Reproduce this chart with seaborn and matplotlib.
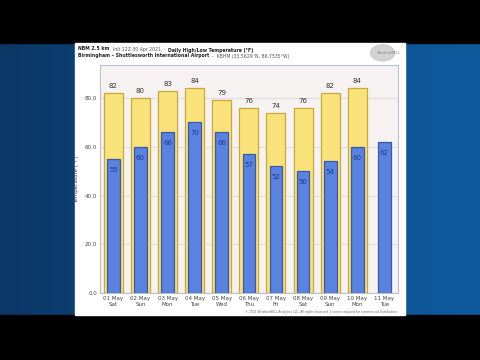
import numpy as np
import pandas as pd
import matplotlib.pyplot as plt
import seaborn as sns
from matplotlib.patches import Rectangle, Ellipse

sns.set_theme(style="white")
plt.rcParams['font.family'] = ['DejaVu Sans']

# --- data ---
dates = ["01 May", "02 May", "03 May", "04 May", "05 May", "06 May",
         "07 May", "08 May", "09 May", "10 May", "11 May"]
weekdays = ["Sat", "Sun", "Mon", "Tue", "Wed", "Thu", "Fri", "Sat", "Sun", "Mon", "Tue"]
highs = [82, 80, 83, 84, 79, 76, 74, 76, 82, 84, np.nan]
lows = [55, 60, 66, 70, 66, 57, 52, 50, 54, 60, 62]

cats = [f"{d}\n{w}" for d, w in zip(dates, weekdays)]
df = pd.DataFrame({"day": cats, "high": highs, "low": lows})

fig = plt.figure(figsize=(4.8, 3.6), dpi=100)

# --- video frame: blue backdrop, black bands, white card ---
bg = fig.add_axes([0, 0, 1, 1])
bg.set_axis_off()
grad = np.linspace(0, 1, 256)[None, :]
bg.imshow(grad, aspect="auto", extent=[0, 1, 0, 1],
          cmap=sns.blend_palette(["#0a3764", "#0d4f8e", "#0e5a9d"], as_cmap=True))
bg.add_patch(Rectangle((0, 0.881), 1, 0.119, color="black"))
bg.add_patch(Rectangle((0, 0), 1, 0.125, color="black"))
bg.add_patch(Rectangle((0.156, 0.125), 0.688, 0.756, color="white"))
bg.add_patch(Ellipse((0.797, 0.853), 0.05, 0.045, color="#c8c8c8", alpha=0.8))
bg.text(0.81, 0.853, "WeatherBELL", fontsize=2.6, color="#888888", ha="center", va="center")
bg.set_xlim(0, 1)
bg.set_ylim(0, 1)

# --- titles, pieces chained left to right ---
fs = 3.3
t = fig.text(0.163, 0.862, "NBM 2.5 km", fontsize=fs, fontweight="bold", color="#222222", va="baseline")
t2 = bg.annotate("  Init 12Z 30 Apr 2021  -  ", xy=(1, 0), xycoords=t, fontsize=fs,
                 color="#555555", va="baseline")
bg.annotate("Daily High/Low Temperature (°F)", xy=(1, 0), xycoords=t2, fontsize=fs,
            fontweight="bold", color="#222222", va="baseline")
s = fig.text(0.163, 0.842, "Birmingham – Shuttlesworth International Airport", fontsize=fs,
             fontweight="bold", color="#222222", va="baseline")
bg.annotate("  -  KBHM (33.5629°N, 86.7535°W)", xy=(1, 0), xycoords=s, fontsize=fs,
            color="#555555", va="baseline")
fig.text(0.829, 0.133, "© 2021 WeatherBELL Analytics LLC. All rights reserved. License required for commercial distribution.",
         fontsize=2.2, color="#666666", ha="right", va="center")

# --- main chart ---
ax = fig.add_axes([0.208, 0.186, 0.621, 0.633])
ax.set_facecolor("#f5f2f1")

sns.barplot(data=df, x="day", y="high", order=cats, color="#fae27a", saturation=1,
            width=0.7, edgecolor="#c9a93a", linewidth=0.9, ax=ax)
sns.barplot(data=df, x="day", y="low", order=cats, color="#5a82e0", saturation=1,
            width=0.47, edgecolor="#3a5aa8", linewidth=0.9, ax=ax)

ax.bar_label(ax.containers[0], fmt="%.0f", padding=3, fontsize=5, color="#333333")
ax.bar_label(ax.containers[1], fmt="%.0f", padding=-10, fontsize=5, color="#1c3a8c")

ax.set_ylim(0, 93.5)
ax.set_xlim(-0.5, 10.5)
ax.set_yticks([0, 20, 40, 60, 80])
ax.set_yticklabels(["0.0", "20.0", "40.0", "60.0", "80.0"])
ax.yaxis.grid(True, color="#e2dede", linewidth=0.8)
ax.set_axisbelow(True)
ax.tick_params(axis="both", labelsize=4, colors="#444444", length=0, pad=2)
ax.set_xlabel("")
ax.set_ylabel("Temperature [°F]", fontsize=4, color="#444444", labelpad=4)
for sp in ax.spines.values():
    sp.set_color("#b8bfd0")
    sp.set_linewidth(0.8)

fig.savefig("out.png", dpi=100)
